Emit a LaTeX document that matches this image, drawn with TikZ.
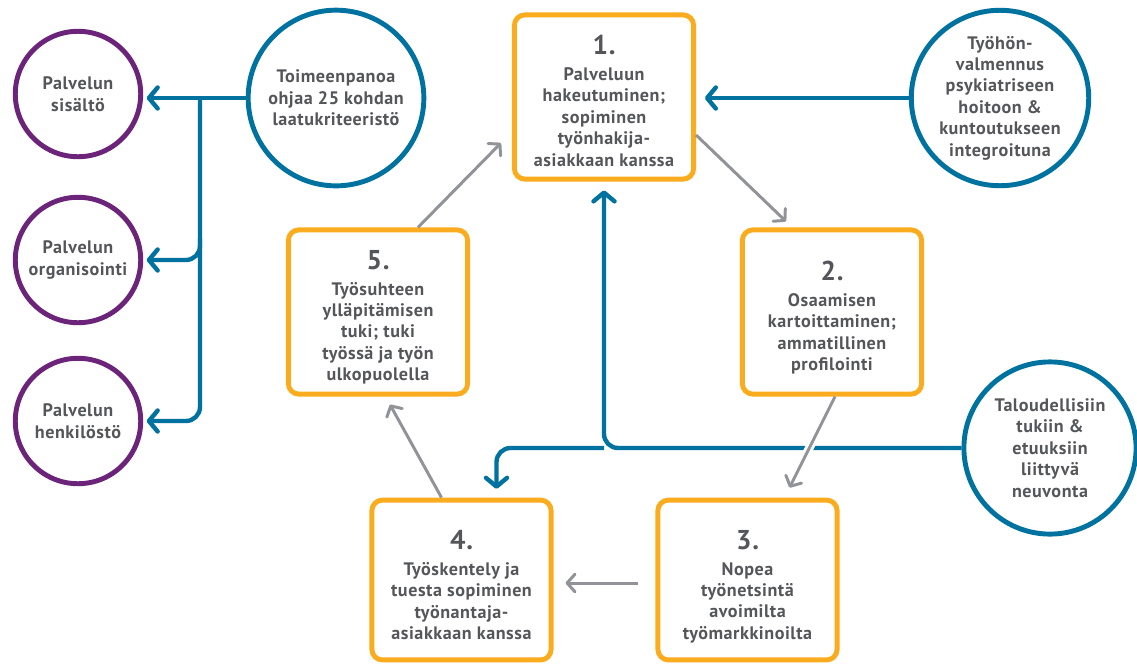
\documentclass[tikz,border=0pt]{standalone}
\usepackage{fontspec}
\newfontfamily\lblfont{PT Sans}[LetterSpace=3]
\usetikzlibrary{arrows.meta,shapes.geometric,calc}
\definecolor{orng}{RGB}{250,172,30}
\definecolor{blu}{RGB}{0,114,160}
\definecolor{purp}{RGB}{108,35,122}
\definecolor{gry}{RGB}{145,147,152}
\definecolor{txt}{RGB}{85,86,90}
\newcommand\stepnum[1]{{\fontsize{15.5}{15.5}\selectfont #1}\\[2.4pt]}
\begin{document}
\begin{tikzpicture}[x=0.02cm,y=-0.02cm,
  lbl/.style={font=\lblfont\bfseries\fontsize{10.3}{12.2}\selectfont, text=txt, align=center},
  stepbox/.style={draw=orng, line width=2.8pt, rounded corners=6pt, minimum width=102pt, minimum height=93.5pt, inner sep=0},
  steptxt/.style={lbl, inner sep=0, anchor=north},
  purpcirc/.style={lbl, draw=purp, line width=2.8pt, circle, minimum size=71.4pt, inner sep=0},
  bluecirc/.style={lbl, draw=blu, line width=2.8pt, circle, minimum size=100pt, inner sep=0},
  blueline/.style={draw=blu, line width=2.5pt, rounded corners=8pt},
  bluearrow/.style={blueline, -{Straight Barb[length=5pt,width=12pt,round]}},
  grayarrow/.style={draw=gry, line width=1.7pt, -{Straight Barb[length=4.5pt,width=10pt,round]}},
]
\useasboundingbox (0,0) rectangle (1137,667);

% boxes
\node[stepbox] (b1) at (604,97) {};
\node[stepbox] (b2) at (832,312) {};
\node[stepbox, minimum height=91pt] (b3) at (747.5,580) {};
\node[stepbox, minimum height=91pt] (b4) at (461.5,580) {};
\node[stepbox] (b5) at (378,312) {};

\node[steptxt] (t1) at (604,35) {\stepnum{1.}Palveluun\\hakeutuminen;\\sopiminen\\työnhakija-\\asiakkaan kanssa};
\node[steptxt] (t2) at (832,261) {\stepnum{2.}Osaamisen\\kartoittaminen;\\ammatillinen\\profilointi};
\node[steptxt] (t3) at (747.5,530) {\stepnum{3.}Nopea\\työnetsintä\\avoimilta\\työmarkkinoilta};
\node[steptxt] (t4) at (461.5,530) {\stepnum{4.}Työskentely ja\\tuesta sopiminen\\työnantaja-\\asiakkaan kanssa};
\node[steptxt] (t5) at (378,250) {\stepnum{5.}Työsuhteen\\ylläpitämisen\\tuki; tuki\\työssä ja työn\\ulkopuolella};

% circles
\node[purpcirc] (sis) at (78,94) {Palvelun\\sisältö};
\node[purpcirc] (org) at (78,260) {Palvelun\\organisointi};
\node[purpcirc] (henk) at (78,421) {Palvelun\\henkilöstö};
\node[bluecirc] (toim) at (336,98) {Toimeenpanoa\\ohjaa 25 kohdan\\laatukriteeristö};
\node[lbl, draw=blu, line width=2.8pt, ellipse, minimum width=101pt, minimum height=99.5pt, inner sep=0] (tyo) at (1000,98) {Työhön-\\valmennus\\psykiatriseen\\hoitoon \&\\kuntoutukseen\\integroituna};
\node[bluecirc, minimum size=98pt] (tal) at (1050,448) {Taloudellisiin\\tukiin \&\\etuuksiin\\liittyvä\\neuvonta};

% blue connectors
\coordinate (j1) at (200,98);
\coordinate (j2) at (200,238);
\draw[bluearrow, shorten >=2pt] (toim.west) -- (toim.west -| sis.east);
\draw[bluearrow, shorten >=2pt] (j1) |- (henk.east);
\draw[bluearrow, shorten >=2pt] (j2) |- (org.east);
\draw[bluearrow, shorten >=5pt] (tyo.west) -- (tyo.west -| b1.east);
\coordinate (j3) at (tal.west -| b1.south);
\draw[bluearrow, shorten >=5pt] (tal.west) -| (b1.south);
\draw[bluearrow, shorten >=5pt] (j3) -| ($(b4.north)+(35,0)$);

% gray arrows
\draw[white, line width=5pt, shorten <=22pt, shorten >=12pt] ($(b2.south)+(3,0)$) -- ($(b3.north)+(42,-10)$);
\draw[grayarrow] ($(b5.north)+(40,0)$) -- ($(b1.west)+(-11,46)$);
\draw[grayarrow] ($(b1.east)+(0,38)$) -- ($(b2.north)+(-46,-6)$);
\draw[grayarrow] ($(b2.south)+(3,0)$) -- ($(b3.north)+(42,-10)$);
\draw[grayarrow] ($(b3.west)+(-17,3)$) -- ($(b4.east)+(12,3)$);
\draw[grayarrow] ($(b4.north)+(-20,0)$) -- ($(b5.south)+(12,8)$);
\end{tikzpicture}
\end{document}
